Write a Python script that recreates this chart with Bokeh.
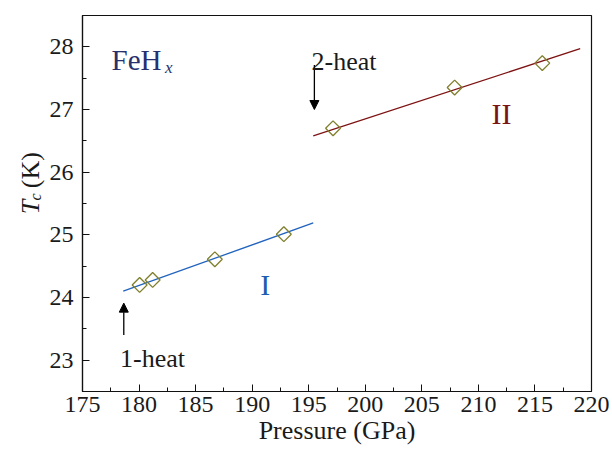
import math
from bokeh.plotting import figure
from bokeh.layouts import row
from bokeh.models import SingleIntervalTicker, Label, Arrow, NormalHead, Range1d
from bokeh.embed import file_html
from bokeh.resources import INLINE

# ---- data ----
pressure_I = [180.05, 181.2, 186.7, 192.8]
tc_I = [24.20, 24.28, 24.61, 25.01]
pressure_II = [197.15, 207.9, 215.65]
tc_II = [26.70, 27.35, 27.74]
fit_I_x = [178.6, 195.4]
fit_I_y = [24.10, 25.19]
fit_II_x = [195.4, 219.0]
fit_II_y = [26.58, 27.97]
heat1_x = [178.65]
heat1_y = [23.40, 23.91]
heat2_x = [195.5]
heat2_y = [27.71, 27.0]
x_ticks_interval = 5
y_ticks_interval = 1

SERIF = "Liberation Serif"
H = 454
LW = 46          # width of the strip holding the rotated y-axis title
W = 610 - LW
FL, FR, FT, FB = 82, 591, 15, 391   # frame edges in page pixels

p = figure(width=W, height=H, output_backend="svg", toolbar_location=None,
           x_range=Range1d(175, 220), y_range=Range1d(22.5, 28.5),
           min_border_left=FL - LW, min_border_right=W + LW - FR,
           min_border_top=FT, min_border_bottom=H - FB)
p.background_fill_color = "white"
p.border_fill_color = "white"
p.grid.visible = False
p.outline_line_color = "#111111"
p.outline_line_width = 1.2

for ax, interval in ((p.xaxis[0], x_ticks_interval), (p.yaxis[0], y_ticks_interval)):
    ax.ticker = SingleIntervalTicker(interval=interval, num_minor_ticks=2)
    ax.major_tick_in = 7
    ax.major_tick_out = 0
    ax.minor_tick_in = 4
    ax.minor_tick_out = 0
    ax.axis_line_width = 1.2
    ax.axis_line_color = "#111111"
    ax.major_tick_line_color = "#111111"
    ax.minor_tick_line_color = "#111111"
    ax.major_label_text_font = SERIF
    ax.major_label_text_font_size = "24px"
    ax.major_label_text_color = "#1a1a1a"

p.xaxis.major_label_standoff = 5
p.yaxis.major_label_standoff = 9
p.xaxis.axis_label = "Pressure (GPa)"
p.xaxis.axis_label_text_font = SERIF
p.xaxis.axis_label_text_font_style = "normal"
p.xaxis.axis_label_text_font_size = "26px"
p.xaxis.axis_label_text_color = "#1a1a1a"
p.xaxis.axis_label_standoff = 1

# fit lines
p.line(fit_I_x, fit_I_y, line_color="#2163bd", line_width=1.3)
p.line(fit_II_x, fit_II_y, line_color="#7d1212", line_width=1.3)

# markers
for xs, ys in ((pressure_I, tc_I), (pressure_II, tc_II)):
    p.scatter(xs, ys, marker="square", angle=math.pi / 4, size=10.5,
              fill_color=None, line_color="#7f7f2c", line_width=1.3)

# page pixel -> data helpers (annotation placement only)
def dx(px):
    return 175 + (px - FL) / ((FR - FL) / 45)

def dy(py):
    return 22.5 + (FB - py) / ((FB - FT) / 6)

def lab(fig, x, y, text, size, color="#1a1a1a", style="normal", align="left",
        baseline="alphabetic", angle=0.0):
    fig.add_layout(Label(x=x, y=y, text=text, text_font=SERIF, text_font_size=size,
                         text_color=color, text_font_style=style, text_align=align,
                         text_baseline=baseline, angle=angle))

# arrows
for ax_, ay in ((heat1_x, heat1_y), (heat2_x, heat2_y)):
    p.add_layout(Arrow(x_start=ax_[0], y_start=ay[0], x_end=ax_[0], y_end=ay[1],
                       line_width=1.3, line_color="black",
                       end=NormalHead(size=9, fill_color="black", line_color="black", line_width=1)))

# texts
lab(p, dx(311), dy(60.7), "2-heat", "26px")
lab(p, dx(119.5), dy(358), "1-heat", "26px")
lab(p, dx(501), dy(113.3), "II", "30px", color="#7a1414", align="center")
lab(p, dx(264.7), dy(284.3), "I", "30px", color="#1f5cb0", align="center")
lab(p, dx(111), dy(59.3), "FeH", "29px", color="#28306e")
lab(p, dx(164.5), dy(67), "x", "17px", color="#28306e", style="italic")

# ---- left strip with the rotated y-axis title  T_c (K) ----
t = figure(width=LW, height=H, output_backend="svg", toolbar_location=None,
           x_axis_type=None, y_axis_type=None, min_border=0,
           x_range=Range1d(0, LW), y_range=Range1d(H, 0))
t.outline_line_color = None
t.grid.visible = False
t.background_fill_color = "white"
t.border_fill_color = "white"
ang = math.pi / 2
lab(t, 30, 240, "T", "26px", style="italic", angle=ang)
lab(t, 35, 223.5, "c", "16px", style="italic", angle=ang)
lab(t, 30, 208.5, "(K)", "26px", angle=ang)

layout = row(t, p, spacing=0)
open("out.html", "w").write(file_html(layout, INLINE))
